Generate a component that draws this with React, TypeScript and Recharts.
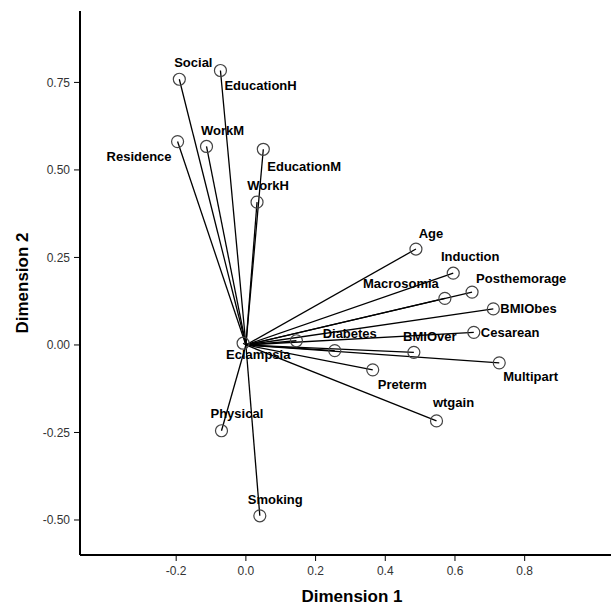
import React from "react";
import {
  ReferenceLine,
  Scatter,
  ScatterChart,
  XAxis,
  YAxis,
  Label,
} from "recharts";

// variable names as printed in the plot ("" = point whose label is hidden under the others)
const variables = [
  "Social", "EducationH", "Residence", "WorkM", "EducationM", "WorkH",
  "Age", "Induction", "Macrosomia", "Posthemorage", "BMIObes", "Cesarean",
  "BMIOver", "Multipart", "Preterm", "wtgain", "Diabetes", "Eclampsia", "",
  "Physical", "Smoking",
];
const dimension1 = [
  -0.191, -0.073, -0.196, -0.113, 0.05, 0.032,
  0.488, 0.595, 0.571, 0.649, 0.71, 0.654,
  0.482, 0.727, 0.364, 0.547, 0.255, 0.145, -0.008,
  -0.07, 0.04,
];
const dimension2 = [
  0.759, 0.784, 0.581, 0.567, 0.559, 0.408,
  0.274, 0.205, 0.133, 0.151, 0.103, 0.036,
  -0.021, -0.051, -0.071, -0.217, -0.016, 0.012, 0.005,
  -0.245, -0.488,
];
const xTicks = [-0.2, 0, 0.2, 0.4, 0.6, 0.8];
const yTicks = [-0.5, -0.25, 0, 0.25, 0.5, 0.75];

const X_DOMAIN: [number, number] = [-0.476, 1.085];
const Y_DOMAIN: [number, number] = [-0.6, 0.954];

// where each label sits relative to its circle
const labelPlacement: Record<string, { anchor: "start" | "middle" | "end"; dx: number; dy: number }> = {
  Social: { anchor: "middle", dx: 14, dy: -17 },
  EducationH: { anchor: "start", dx: 4, dy: 15 },
  Residence: { anchor: "end", dx: -6, dy: 15 },
  WorkM: { anchor: "middle", dx: 16, dy: -16 },
  EducationM: { anchor: "start", dx: 4, dy: 17 },
  WorkH: { anchor: "middle", dx: 11, dy: -17 },
  Age: { anchor: "middle", dx: 15, dy: -16 },
  Induction: { anchor: "middle", dx: 17, dy: -17 },
  Macrosomia: { anchor: "end", dx: -6, dy: -15 },
  Posthemorage: { anchor: "start", dx: 4, dy: -14 },
  BMIObes: { anchor: "start", dx: 7, dy: 0 },
  Cesarean: { anchor: "start", dx: 7, dy: 0 },
  BMIOver: { anchor: "middle", dx: 16, dy: -16 },
  Multipart: { anchor: "start", dx: 4, dy: 14 },
  Preterm: { anchor: "start", dx: 5, dy: 15 },
  wtgain: { anchor: "middle", dx: 17, dy: -18 },
  Diabetes: { anchor: "middle", dx: 15, dy: -17 },
  Eclampsia: { anchor: "end", dx: -6, dy: 14 },
  Physical: { anchor: "start", dx: -11, dy: -17 },
  Smoking: { anchor: "start", dx: -12, dy: -16 },
};

const points = variables.map((name, i) => ({ name, x: dimension1[i], y: dimension2[i] }));

const FONT = "'Liberation Sans', Arial, sans-serif";
const tickStyle = { fill: "#333", fontSize: 12, fontFamily: FONT };

type PointShapeProps = { cx?: number; cy?: number; payload?: { name: string } };

function PointShape({ cx, cy, payload }: PointShapeProps) {
  if (typeof cx !== "number" || typeof cy !== "number") return null;
  const place = payload?.name ? labelPlacement[payload.name] : undefined;
  return (
    <g>
      <circle cx={cx} cy={cy} r={6} fill="none" stroke="#444" strokeWidth={1.2} />
      {place ? (
        <text
          x={cx + place.dx}
          y={cy + place.dy}
          textAnchor={place.anchor}
          dominantBaseline="central"
          fontFamily={FONT}
          fontWeight="bold"
          fontSize={13}
          fill="#000"
        >
          {payload!.name}
        </text>
      ) : null}
    </g>
  );
}

export default function App() {
  return (
    <div
      style={{
        position: "fixed",
        left: 0,
        top: 0,
        width: 611,
        height: 609,
        overflow: "hidden",
        background: "#fff",
      }}
    >
      <ScatterChart width={700} height={609} margin={{ top: 11, right: 76, bottom: 0, left: 0 }}>
        <XAxis
          type="number"
          dataKey="x"
          domain={X_DOMAIN}
          allowDataOverflow
          ticks={xTicks}
          tickFormatter={(v: number) => v.toFixed(1)}
          tick={tickStyle}
          tickSize={6}
          tickMargin={5}
          height={54}
          axisLine={{ stroke: "#000", strokeWidth: 2 }}
          tickLine={{ stroke: "#000" }}
        >
          <Label
            content={({ viewBox }: any) => (
              <text
                x={viewBox.x + viewBox.width / 2}
                y={602}
                textAnchor="middle"
                fontFamily={FONT}
                fontWeight="bold"
                fontSize={17}
                fill="#000"
              >
                Dimension 1
              </text>
            )}
          />
        </XAxis>
        <XAxis
          xAxisId="top"
          orientation="top"
          type="number"
          domain={X_DOMAIN}
          allowDataOverflow
          height={0}
          tick={false}
          tickLine={false}
          axisLine={{ stroke: "#000", strokeWidth: 2 }}
        />
        <YAxis
          type="number"
          dataKey="y"
          domain={Y_DOMAIN}
          allowDataOverflow
          ticks={yTicks}
          tickFormatter={(v: number) => v.toFixed(2)}
          tick={tickStyle}
          tickSize={6}
          tickMargin={4}
          width={80}
          axisLine={{ stroke: "#000", strokeWidth: 2 }}
          tickLine={{ stroke: "#000" }}
        >
          <Label
            content={({ viewBox }: any) => {
              const cy = viewBox.y + viewBox.height / 2;
              return (
                <text
                  x={28}
                  y={cy}
                  transform={`rotate(-90 28 ${cy})`}
                  textAnchor="middle"
                  fontFamily={FONT}
                  fontWeight="bold"
                  fontSize={17}
                  fill="#000"
                >
                  Dimension 2
                </text>
              );
            }}
          />
        </YAxis>
        {points.map((p, i) => (
          <ReferenceLine
            key={i}
            segment={[
              { x: 0, y: 0 },
              { x: p.x, y: p.y },
            ]}
            stroke="#000"
            strokeWidth={1.3}
            ifOverflow="visible"
          />
        ))}
        <Scatter data={points} shape={(props: any) => <PointShape {...props} />} isAnimationActive={false} />
      </ScatterChart>
    </div>
  );
}
